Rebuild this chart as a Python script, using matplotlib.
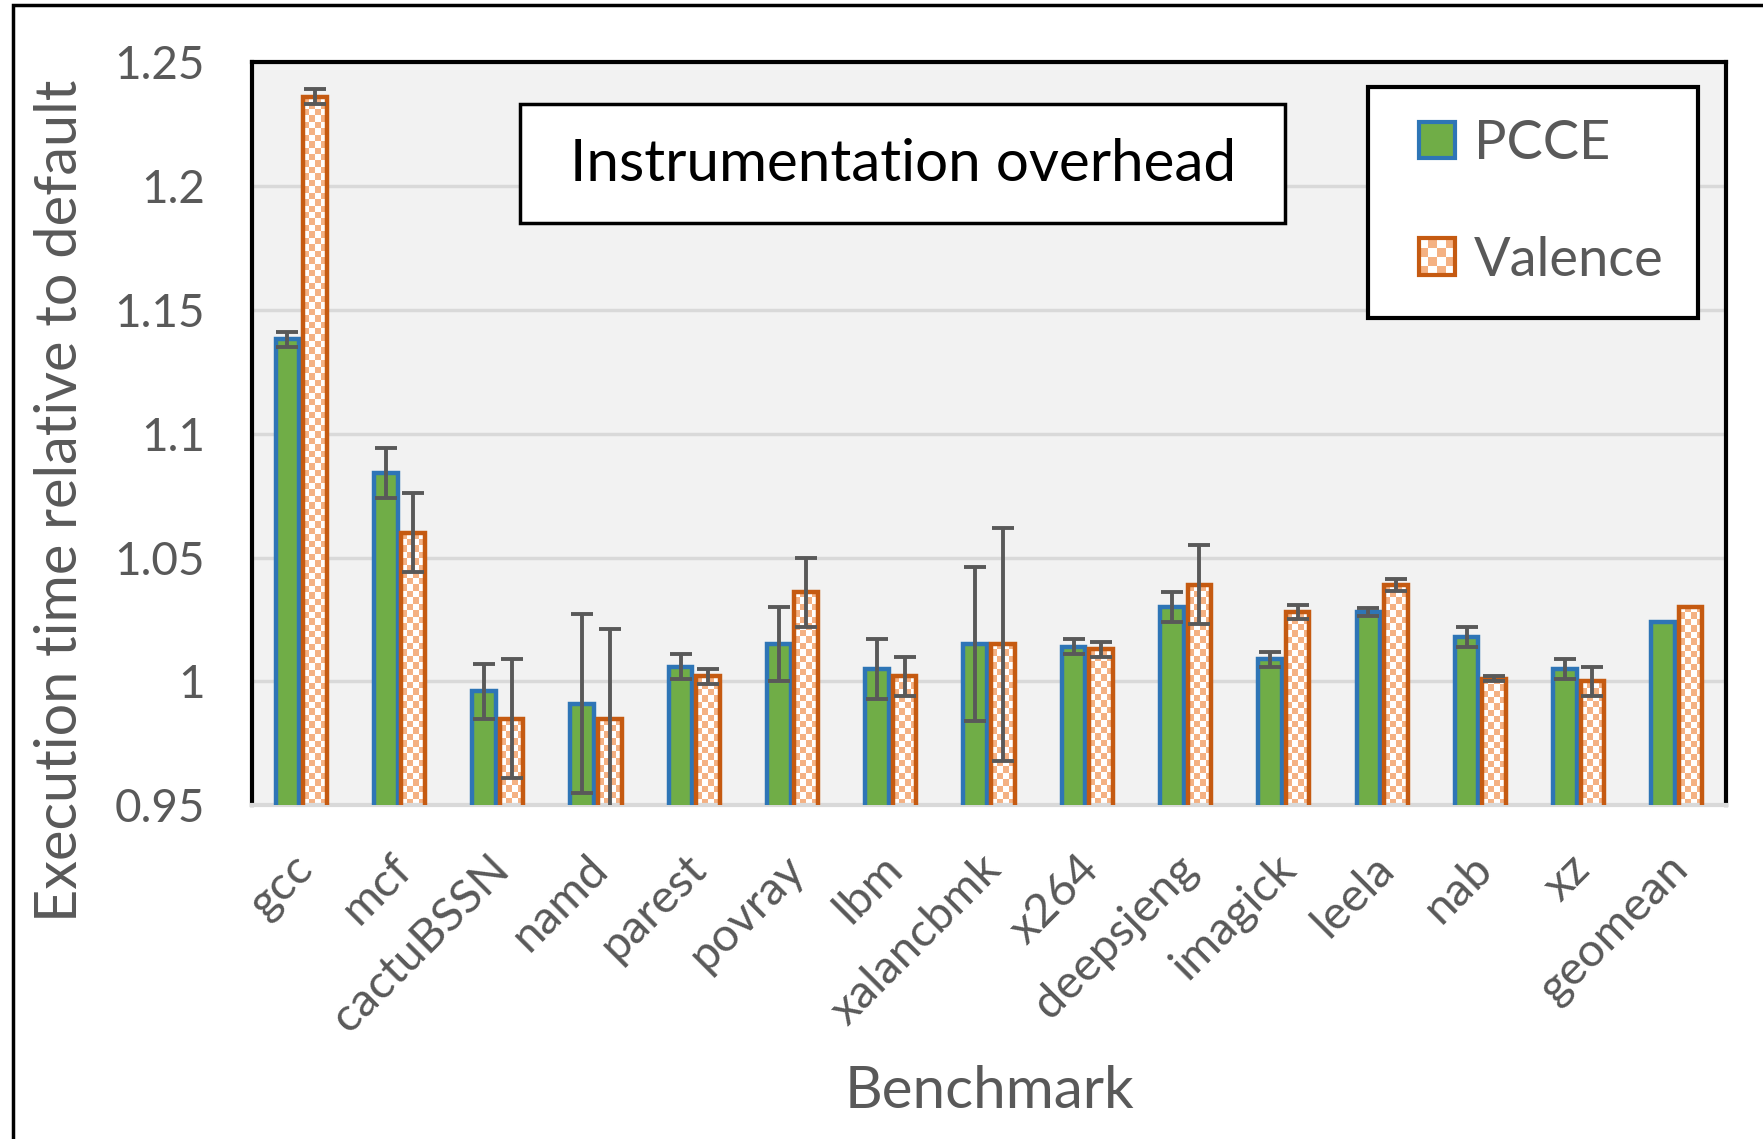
import numpy as np
import matplotlib.pyplot as plt
from matplotlib.patches import Rectangle
from matplotlib.colors import ListedColormap
from matplotlib.legend_handler import HandlerBase
from matplotlib.transforms import ScaledTranslation

plt.rcParams['font.family'] = ['Lato', 'DejaVu Sans']

benchmarks = ['gcc', 'mcf', 'cactuBSSN', 'namd', 'parest', 'povray', 'lbm', 'xalancbmk',
              'x264', 'deepsjeng', 'imagick', 'leela', 'nab', 'xz', 'geomean']
pcce = [1.138, 1.084, 0.996, 0.991, 1.006, 1.015, 1.005, 1.015,
        1.014, 1.030, 1.009, 1.028, 1.018, 1.005, 1.024]
pcce_err = [0.003, 0.010, 0.011, 0.036, 0.005, 0.015, 0.012, 0.031,
            0.003, 0.006, 0.003, 0.0015, 0.004, 0.004, 0.0]
valence = [1.236, 1.060, 0.985, 0.985, 1.002, 1.036, 1.002, 1.015,
           1.013, 1.039, 1.028, 1.039, 1.001, 1.000, 1.030]
valence_err = [0.003, 0.016, 0.024, 0.036, 0.003, 0.014, 0.008, 0.047,
               0.003, 0.016, 0.003, 0.0025, 0.001, 0.006, 0.0]
yticks = [0.95, 1.0, 1.05, 1.1, 1.15, 1.2, 1.25]
ytick_labels = ['0.95', '1', '1.05', '1.1', '1.15', '1.2', '1.25']

GREEN = '#70ad47'
BLUE = '#2e75b6'
ORANGE = '#c55a11'
LIGHT = '#f4b183'
GRAY = '#595959'
YMIN, YMAX = 0.95, 1.25


class CheckerHandler(HandlerBase):
    def create_artists(self, legend, orig_handle, xd, yd, w, h, fontsize, trans):
        x0, y0 = -xd, -yd
        arts = [Rectangle((x0, y0), w, h, fc='white', ec='none', transform=trans)]
        n = 4
        for i in range(n):
            for j in range(n):
                if (i + j) % 2 == 0:
                    arts.append(Rectangle((x0 + i * w / n, y0 + j * h / n), w / n, h / n,
                                          fc=LIGHT, ec='none', transform=trans))
        arts.append(Rectangle((x0, y0), w, h, fc='none', ec=ORANGE, lw=3, transform=trans))
        return arts


fig = plt.figure(figsize=(17.63, 11.39), dpi=100)
ax = fig.add_axes([0.143, 0.293, 0.836, 0.6526])
ax.set_facecolor('#f2f2f2')

x = np.arange(len(benchmarks))
width = 0.24
off = 0.14

pbars = ax.bar(x - off, pcce, width, color=GREEN, edgecolor=BLUE, linewidth=3.2, zorder=3)
vbars = ax.bar(x + off, valence, width, facecolor='none', edgecolor=ORANGE, linewidth=3.2, zorder=3)

# checkerboard fill for the Valence bars
checker = ListedColormap(['white', LIGHT])
cell_h = 0.0026
for rect in vbars:
    x0, w, top = rect.get_x(), rect.get_width(), rect.get_height()
    ny = max(1, int(round((top - YMIN) / cell_h)))
    grid = np.indices((ny, 4)).sum(axis=0) % 2
    im = ax.imshow(grid, cmap=checker, extent=(x0, x0 + w, YMIN, top), origin='lower',
                   aspect='auto', interpolation='nearest', zorder=2.5)
    im.set_clip_path(rect)

# error bars
for xs, vals, errs in [(x - off, pcce, pcce_err), (x + off, valence, valence_err)]:
    idx = [i for i, e in enumerate(errs) if e > 0]
    ax.errorbar(xs[idx], np.array(vals)[idx], yerr=np.array(errs)[idx], fmt='none',
                ecolor=GRAY, elinewidth=2.8, capsize=8, capthick=2.8, zorder=4)

ax.set_xlim(-0.5, len(benchmarks) - 0.5)
ax.set_ylim(YMIN, YMAX)
ax.set_yticks(yticks)
ax.set_yticklabels(ytick_labels)
ax.yaxis.grid(True, color='#d9d9d9', linewidth=2.5)
ax.set_axisbelow(True)
ax.tick_params(axis='y', length=0, pad=34, labelsize=33, labelcolor=GRAY)
ax.tick_params(axis='x', length=0, pad=30, labelsize=34, labelcolor=GRAY)
ax.set_xticks(x)
ax.set_xticklabels(benchmarks, rotation=45, ha='right', rotation_mode='anchor')
shift = ScaledTranslation(-0.1, 0, fig.dpi_scale_trans)
for lbl in ax.get_xticklabels():
    lbl.set_transform(lbl.get_transform() + shift)

for side in ['left', 'top', 'right']:
    ax.spines[side].set_color('black')
    ax.spines[side].set_linewidth(3)
ax.spines['bottom'].set_color('#d9d9d9')
ax.spines['bottom'].set_linewidth(3)

ax.set_ylabel('Execution time relative to default', fontsize=41.5, color=GRAY)
ax.yaxis.set_label_coords(-0.112, 0.41)
ax.set_xlabel('Benchmark', fontsize=42, color=GRAY)
ax.xaxis.set_label_coords(0.5, -0.35)

# title box
ax.add_patch(Rectangle((0.182, 0.784), 0.519, 0.160, transform=ax.transAxes,
                       facecolor='white', edgecolor='black', linewidth=2.5, zorder=5))
ax.text(0.4415, 0.862, 'Instrumentation overhead', transform=ax.transAxes,
        ha='center', va='center', fontsize=42, color='black', zorder=6)

# legend box
ax.add_patch(Rectangle((0.757, 0.655), 0.224, 0.3107, transform=ax.transAxes,
                       facecolor='white', edgecolor='black', linewidth=3, zorder=5))
pcce_proxy = Rectangle((0, 0), 1, 1, fc=GREEN, ec=BLUE, lw=3)
val_proxy = Rectangle((0, 0), 1, 1)
leg = ax.legend([pcce_proxy, val_proxy], ['PCCE', 'Valence'],
                handler_map={val_proxy: CheckerHandler()},
                loc='center left', bbox_to_anchor=(0.7917, 0.8118), fontsize=39,
                labelcolor=GRAY, handlelength=0.66, handleheight=0.66, handletextpad=0.35,
                labelspacing=1.25, borderpad=0, borderaxespad=0, frameon=False)
leg.set_zorder(6)

# outer border of the figure
fig.add_artist(Rectangle((0.0074, -0.1), 1.2, 0.1 + 0.9956, transform=fig.transFigure,
                         fill=False, edgecolor='black', linewidth=2.5))

fig.savefig('out.png', dpi=100)
